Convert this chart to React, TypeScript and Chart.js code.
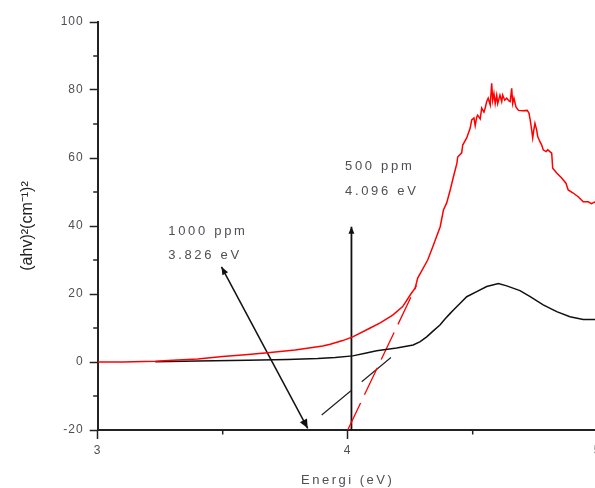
import React, { useEffect, useRef } from 'react';
import { Chart, registerables } from 'chart.js';

Chart.register(...registerables);

// 500 ppm sample (red)
const redX = [3.0, 3.1, 3.23, 3.3, 3.4, 3.5, 3.59, 3.68, 3.79, 3.9, 3.93, 3.98, 4.02, 4.09, 4.13, 4.18, 4.22, 4.25, 4.27, 4.28, 4.32, 4.34, 4.37, 4.383, 4.396, 4.41, 4.423, 4.437, 4.44, 4.456, 4.46, 4.476, 4.49, 4.496, 4.505, 4.51, 4.516, 4.52, 4.53, 4.536, 4.545, 4.55, 4.556, 4.562, 4.57, 4.576, 4.58, 4.585, 4.59, 4.596, 4.6, 4.609, 4.616, 4.62, 4.628, 4.636, 4.645, 4.65, 4.656, 4.66, 4.665, 4.673, 4.683, 4.7, 4.718, 4.725, 4.73, 4.736, 4.74, 4.745, 4.749, 4.756, 4.76, 4.769, 4.776, 4.782, 4.793, 4.8, 4.816, 4.82, 4.836, 4.856, 4.873, 4.882, 4.902, 4.922, 4.942, 4.962, 4.975, 4.99, 5.0];
const redY = [0, 0, 0.2, 0.5, 0.9, 1.6, 2.1, 2.7, 3.5, 4.7, 5.2, 6.3, 7.4, 10.0, 11.5, 13.8, 16.3, 19.7, 21.8, 24.7, 30, 33.8, 39.8, 44.7, 46.8, 50.6, 54.5, 58.5, 60.3, 61.5, 63.8, 65.9, 68.8, 71.2, 71.8, 69.5, 72.0, 72.6, 71.5, 74.7, 73.5, 74.7, 76.6, 77.6, 75.6, 82, 77, 79, 76, 78.5, 76, 78.5, 76.6, 78.5, 77, 77.6, 76.8, 76.6, 80.5, 76, 77.6, 75, 74, 73.9, 74, 73.2, 71.2, 68.2, 65.9, 68.5, 70.2, 68.2, 66.3, 64.8, 63.8, 62.4, 61.9, 62.4, 61.4, 57, 55.6, 54.1, 52.6, 50.6, 49.7, 48.6, 47.1, 47.1, 46.6, 47.1, 46.9];

// 1000 ppm sample (black)
const blackX = [3.23, 3.4, 3.6, 3.76, 3.88, 3.95, 4.02, 4.07, 4.116, 4.196, 4.262, 4.29, 4.316, 4.34, 4.369, 4.39, 4.41, 4.423, 4.45, 4.476, 4.516, 4.556, 4.603, 4.636, 4.689, 4.73, 4.782, 4.836, 4.889, 4.942, 5.0];
const blackY = [0.1, 0.3, 0.5, 0.7, 1.0, 1.3, 1.8, 2.6, 3.3, 4.1, 5.0, 6.0, 7.4, 9.0, 10.9, 12.7, 14.3, 15.3, 17.3, 19.2, 20.7, 22.2, 23.1, 22.4, 21.0, 19.2, 16.8, 14.8, 13.3, 12.5, 12.5];

// tangent (extrapolation) lines
const redTangentX = [4.0, 4.275];
const redTangentY = [-20, 22.5];
const blackTangentX = [3.896, 4.209];
const blackTangentY = [-15.6, 3.5];

// annotation arrows
const arrow1000X = [3.495, 3.84];
const arrow1000Y = [28, -19.5];
const arrow500X = [4.015, 4.015];
const arrow500Y = [39.8, -20];

// ticks
const xTickValues = [3, 4, 5];
const xMinorTicks = [3.5, 4.5];
const yTickValues = [-20, 0, 20, 40, 60, 80, 100];
const yMinorTicks = [-10, 10, 30, 50, 70, 90];

// annotation texts
const label1000 = ['1000 ppm', '3.826 eV'];
const label500 = ['500 ppm', '4.096 eV'];

const FONT = '"Liberation Sans", Arial, sans-serif';
const AXIS_COLOR = '#222';
const TEXT_COLOR = '#4f4f55';

const pts = (xs: number[], ys: number[]) => xs.map((x, i) => ({ x, y: ys[i] }));

function drawHead(ctx: CanvasRenderingContext2D, tx: number, ty: number, fx: number, fy: number, len: number, half: number) {
  const a = Math.atan2(ty - fy, tx - fx);
  ctx.beginPath();
  ctx.moveTo(tx, ty);
  ctx.lineTo(tx - len * Math.cos(a) + half * Math.sin(a), ty - len * Math.sin(a) - half * Math.cos(a));
  ctx.lineTo(tx - len * Math.cos(a) - half * Math.sin(a), ty - len * Math.sin(a) + half * Math.cos(a));
  ctx.closePath();
  ctx.fill();
}

function patchSpacing(scale: any, titleSp: string, labelSp: string) {
  if (scale.__patched) return;
  scale.__patched = true;
  const dt = scale.drawTitle;
  const dl = scale.drawLabels;
  scale.drawTitle = function (...args: any[]) {
    const c = this.ctx;
    const prev = c.letterSpacing;
    c.letterSpacing = titleSp;
    dt.apply(this, args);
    c.letterSpacing = prev || '0px';
  };
  scale.drawLabels = function (...args: any[]) {
    const c = this.ctx;
    const prev = c.letterSpacing;
    c.letterSpacing = labelSp;
    dl.apply(this, args);
    c.letterSpacing = prev || '0px';
  };
}

const annotPlugin = {
  id: 'annot',
  beforeDraw(chart: any) {
    patchSpacing(chart.scales.x, '2.5px', '1px');
    patchSpacing(chart.scales.y, '0px', '1px');
  },
  afterDraw(chart: any) {
    const { ctx, chartArea } = chart;
    const xs = chart.scales.x;
    const ys = chart.scales.y;
    ctx.save();
    // minor ticks
    ctx.strokeStyle = AXIS_COLOR;
    ctx.lineWidth = 1.5;
    xMinorTicks.forEach((v) => {
      const px = xs.getPixelForValue(v);
      ctx.beginPath();
      ctx.moveTo(px, chartArea.bottom);
      ctx.lineTo(px, chartArea.bottom + 4.5);
      ctx.stroke();
    });
    yMinorTicks.forEach((v) => {
      const py = ys.getPixelForValue(v);
      ctx.beginPath();
      ctx.moveTo(chartArea.left, py);
      ctx.lineTo(chartArea.left - 4.5, py);
      ctx.stroke();
    });
    // arrow heads
    ctx.fillStyle = '#111';
    const a1 = arrow1000X.map((v, i) => [xs.getPixelForValue(v), ys.getPixelForValue(arrow1000Y[i])]);
    drawHead(ctx, a1[0][0], a1[0][1], a1[1][0], a1[1][1], 8, 3.2);
    drawHead(ctx, a1[1][0], a1[1][1], a1[0][0], a1[0][1], 9, 4);
    const a2 = arrow500X.map((v, i) => [xs.getPixelForValue(v), ys.getPixelForValue(arrow500Y[i])]);
    drawHead(ctx, a2[0][0], a2[0][1], a2[1][0], a2[1][1], 7, 3);
    // texts
    ctx.font = `13px ${FONT}`;
    ctx.fillStyle = TEXT_COLOR;
    ctx.textAlign = 'left';
    ctx.textBaseline = 'middle';
    (ctx as any).letterSpacing = '2.7px';
    ctx.fillText(label1000[0], xs.getPixelForValue(3.282), ys.getPixelForValue(38.3));
    ctx.fillText(label1000[1], xs.getPixelForValue(3.282), ys.getPixelForValue(31.4));
    ctx.fillText(label500[0], xs.getPixelForValue(3.989), ys.getPixelForValue(57.4));
    ctx.fillText(label500[1], xs.getPixelForValue(3.989), ys.getPixelForValue(50.2));
    (ctx as any).letterSpacing = '0px';
    ctx.restore();
  },
};

export default function App() {
  const ref = useRef<HTMLCanvasElement>(null);
  useEffect(() => {
    const lineDs = (label: string, data: any[], color: string, width: number, dash: number[] = []) => ({
      label,
      data,
      borderColor: color,
      backgroundColor: color,
      borderWidth: width,
      borderDash: dash,
      showLine: true,
      pointRadius: 0,
      tension: 0,
      fill: false,
    });
    const chart = new Chart(ref.current!, {
      type: 'scatter',
      data: {
        datasets: [
          lineDs('500 ppm', pts(redX, redY), '#ff0000', 1.5),
          lineDs('1000 ppm', pts(blackX, blackY), '#111111', 1.5),
          lineDs('500 ppm fit', pts(redTangentX, redTangentY), '#ff0000', 1.3, [30, 9]),
          lineDs('1000 ppm fit', pts(blackTangentX, blackTangentY), '#222222', 1.2, [38, 14]),
          lineDs('arrow 1000', pts(arrow1000X, arrow1000Y), '#111111', 1.5),
          lineDs('arrow 500', pts(arrow500X, arrow500Y), '#111111', 1.8),
        ] as any,
      },
      options: {
        responsive: false,
        animation: false,
        devicePixelRatio: 1,
        layout: { padding: { top: 22, right: 22.3, left: 0, bottom: 0 } },
        plugins: { legend: { display: false }, tooltip: { enabled: false } },
        scales: {
          x: {
            type: 'linear',
            position: 'bottom',
            min: 3,
            max: 5,
            afterBuildTicks: (s: any) => {
              s.ticks = xTickValues.map((v) => ({ value: v }));
            },
            afterFit: (s: any) => {
              s.height = 58;
            },
            ticks: {
              color: TEXT_COLOR,
              font: { family: FONT, size: 12 },
              padding: 4,
              maxRotation: 0,
              autoSkip: false,
              callback: (v: any) => String(v),
            },
            grid: { display: true, drawOnChartArea: false, drawTicks: true, tickLength: 9, tickWidth: 1.5, tickColor: AXIS_COLOR },
            border: { display: true, color: AXIS_COLOR, width: 2 },
            title: {
              display: true,
              text: 'Energi (eV)',
              color: TEXT_COLOR,
              font: { family: FONT, size: 13 },
              padding: { top: 0, bottom: 0 },
            },
          },
          y: {
            type: 'linear',
            min: -20,
            max: 100,
            afterBuildTicks: (s: any) => {
              s.ticks = yTickValues.map((v) => ({ value: v }));
            },
            afterFit: (s: any) => {
              s.width = 97.7;
            },
            ticks: {
              color: TEXT_COLOR,
              font: { family: FONT, size: 12 },
              padding: 6,
              autoSkip: false,
              callback: (v: any) => String(v),
            },
            grid: { display: true, drawOnChartArea: false, drawTicks: true, tickLength: 8, tickWidth: 1.5, tickColor: AXIS_COLOR },
            border: { display: true, color: AXIS_COLOR, width: 2 },
            title: {
              display: true,
              text: '(ahv)²(cm⁻¹)²',
              color: '#222',
              font: { family: FONT, size: 16 },
              padding: { top: 18, bottom: 0 },
            },
          },
        },
      } as any,
      plugins: [annotPlugin],
    });
    return () => chart.destroy();
  }, []);
  return (
    <div style={{ position: 'fixed', left: 0, top: 0, width: 620, height: 488, background: '#fff' }}>
      <canvas ref={ref} width={620} height={488} style={{ display: 'block' }} />
    </div>
  );
}
